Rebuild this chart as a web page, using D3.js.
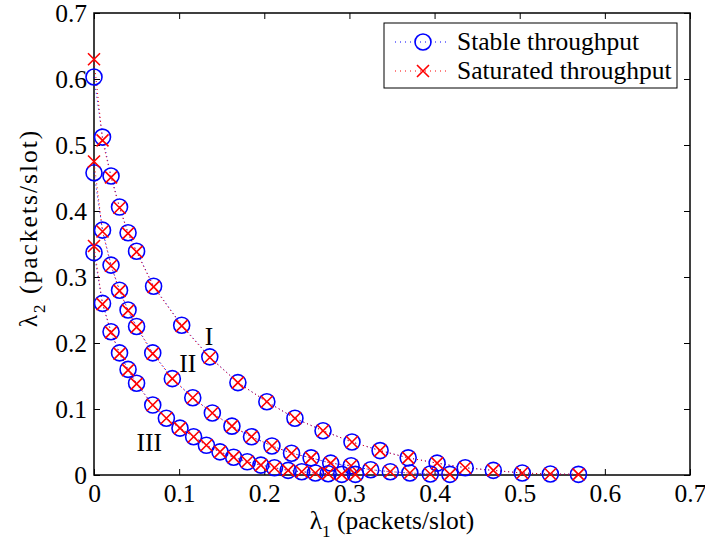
<!DOCTYPE html>
<html>
<head>
<meta charset="utf-8">
<script src="https://cdn.jsdelivr.net/npm/d3@7"></script>
<style>
	body { margin: 0; background: #fff; }
	svg text { font-family: 'Liberation Serif', 'Times New Roman', serif; }
</style>
</head>
<body>
<svg id="chart" width="705" height="544"></svg>
<script>
// lambda_1 values of each region boundary
const xCurveI = [0, 0.01, 0.02, 0.03, 0.04, 0.05, 0.07, 0.103, 0.136, 0.169, 0.203, 0.236, 0.269, 0.303, 0.336, 0.369, 0.403, 0.436, 0.469, 0.503, 0.536, 0.569];
const xCurveII = [0, 0.01, 0.02, 0.03, 0.04, 0.05, 0.069, 0.092, 0.116, 0.139, 0.162, 0.185, 0.209, 0.232, 0.255, 0.278, 0.302, 0.325, 0.348, 0.371, 0.395, 0.418];
const xCurveIII = [0, 0.01, 0.02, 0.03, 0.04, 0.05, 0.069, 0.085, 0.101, 0.117, 0.132, 0.148, 0.164, 0.180, 0.196, 0.212, 0.228, 0.244, 0.260, 0.275, 0.291, 0.307];

// lambda_2, stable throughput
const stableI = [0.603, 0.512, 0.453, 0.406, 0.367, 0.339, 0.286, 0.227, 0.179, 0.140, 0.111, 0.086, 0.067, 0.050, 0.037, 0.026, 0.018, 0.011, 0.007, 0.003, 0.0015, 0.001];
const stableII = [0.458, 0.371, 0.318, 0.280, 0.250, 0.225, 0.185, 0.146, 0.117, 0.094, 0.074, 0.058, 0.044, 0.033, 0.026, 0.018, 0.014, 0.008, 0.005, 0.003, 0.0015, 0.001];
const stableIII = [0.337, 0.260, 0.217, 0.185, 0.160, 0.139, 0.106, 0.086, 0.071, 0.058, 0.045, 0.035, 0.027, 0.020, 0.015, 0.011, 0.007, 0.005, 0.003, 0.002, 0.001, 0.001];

// lambda_2, saturated throughput
const saturatedI = [0.630, 0.507, 0.451, 0.405, 0.366, 0.338, 0.285, 0.226, 0.178, 0.140, 0.111, 0.086, 0.067, 0.050, 0.037, 0.026, 0.018, 0.011, 0.007, 0.003, 0.0015, 0.001];
const saturatedII = [0.475, 0.369, 0.317, 0.279, 0.249, 0.224, 0.184, 0.146, 0.117, 0.094, 0.074, 0.058, 0.044, 0.033, 0.026, 0.018, 0.014, 0.008, 0.005, 0.003, 0.0015, 0.001];
const saturatedIII = [0.347, 0.259, 0.216, 0.184, 0.159, 0.138, 0.106, 0.086, 0.071, 0.058, 0.045, 0.035, 0.027, 0.020, 0.015, 0.011, 0.007, 0.005, 0.003, 0.002, 0.001, 0.001];

const tickValues = [0, 0.1, 0.2, 0.3, 0.4, 0.5, 0.6, 0.7];
const regionLabels = [
	{ text: 'I', x: 0.135, y: 0.197 },
	{ text: 'II', x: 0.110, y: 0.156 },
	{ text: 'III', x: 0.065, y: 0.036 },
];

const FONT = "'Liberation Serif', 'Times New Roman', serif";
const FS = '25.5px';
const margin = { left: 94, right: 15, top: 13, bottom: 69 };
const width = 705 - margin.left - margin.right;
const height = 544 - margin.top - margin.bottom;

const svg = d3.select('#chart');
const g = svg.append('g').attr('transform', `translate(${margin.left},${margin.top})`);

const x = d3.scaleLinear().domain([0, 0.7]).range([0, width]);
const y = d3.scaleLinear().domain([0, 0.7]).range([height, 0]);

const fmt = (d) => (d === 0 ? '0' : d3.format('.1f')(d));

// axes, ticks pointing inward, box on all sides
function styleAxis(sel) {
	sel.attr('font-family', null).attr('font-size', null);
	sel.select('.domain').remove();
	sel.selectAll('line').attr('stroke', '#000').attr('stroke-width', 1);
	sel.selectAll('text').attr('fill', '#000').style('font-family', FONT).style('font-size', FS);
}

g.append('g')
	.attr('transform', `translate(0,${height})`)
	.call(d3.axisBottom(x).tickValues(tickValues).tickFormat(fmt).tickSizeInner(-6).tickPadding(9))
	.call(styleAxis);
g.append('g')
	.call(d3.axisTop(x).tickValues(tickValues).tickFormat('').tickSizeInner(-6))
	.call(styleAxis);
g.append('g')
	.call(d3.axisLeft(y).tickValues(tickValues).tickFormat(fmt).tickSizeInner(-6).tickPadding(7))
	.call(styleAxis);
g.append('g')
	.attr('transform', `translate(${width},0)`)
	.call(d3.axisRight(y).tickValues(tickValues).tickFormat('').tickSizeInner(-6))
	.call(styleAxis);

g.append('rect')
	.attr('width', width)
	.attr('height', height)
	.attr('fill', 'none')
	.attr('stroke', '#000')
	.attr('stroke-width', 1.5);

const curves = [
	{ xs: xCurveI, stable: stableI, saturated: saturatedI },
	{ xs: xCurveII, stable: stableII, saturated: saturatedII },
	{ xs: xCurveIII, stable: stableIII, saturated: saturatedIII },
];

const line = d3.line().x((d) => x(d[0])).y((d) => y(d[1]));

function drawCircles(sel, pts) {
	sel.selectAll(null).data(pts).enter().append('circle')
		.attr('cx', (d) => x(d[0]))
		.attr('cy', (d) => y(d[1]))
		.attr('r', 8)
		.attr('fill', 'none')
		.attr('stroke', '#0000ff')
		.attr('stroke-width', 1.6);
}

function drawCrosses(sel, pts) {
	const s = 6;
	sel.selectAll(null).data(pts).enter().append('path')
		.attr('d', (d) => {
			const cx = x(d[0]);
			const cy = y(d[1]);
			return `M${cx - s},${cy - s}L${cx + s},${cy + s}M${cx - s},${cy + s}L${cx + s},${cy - s}`;
		})
		.attr('fill', 'none')
		.attr('stroke', '#ff0000')
		.attr('stroke-width', 1.6);
}

curves.forEach((c) => {
	const stablePts = c.xs.map((v, i) => [v, c.stable[i]]);
	const satPts = c.xs.map((v, i) => [v, c.saturated[i]]);

	g.append('path').datum(stablePts)
		.attr('d', line)
		.attr('fill', 'none')
		.attr('stroke', '#0000ff')
		.attr('stroke-width', 1)
		.attr('stroke-dasharray', '1,3');
	g.append('path').datum(satPts)
		.attr('d', line)
		.attr('fill', 'none')
		.attr('stroke', '#ff0000')
		.attr('stroke-width', 1)
		.attr('stroke-dasharray', '1,3')
		.attr('stroke-dashoffset', 2);

	drawCircles(g.append('g'), stablePts);
	drawCrosses(g.append('g'), satPts);
});

g.selectAll('.region-label').data(regionLabels).enter().append('text')
	.attr('class', 'region-label')
	.attr('x', (d) => x(d.x))
	.attr('y', (d) => y(d.y))
	.attr('text-anchor', 'middle')
	.style('font-family', FONT)
	.style('font-size', FS)
	.text((d) => d.text);

// axis titles
const xTitle = svg.append('text')
	.attr('x', margin.left + width / 2)
	.attr('y', 529)
	.attr('text-anchor', 'middle')
	.style('font-family', FONT)
	.style('font-size', FS);
xTitle.append('tspan').text('λ');
xTitle.append('tspan').attr('dy', 8).style('font-size', '17px').text('1');
xTitle.append('tspan').attr('dy', -8).text(' (packets/slot)');

// rotated title comes out more spread in the original
const yTitle = svg.append('text')
	.attr('transform', `translate(37,228) rotate(-90)`)
	.attr('text-anchor', 'middle')
	.style('font-family', FONT)
	.style('font-size', FS)
	.style('letter-spacing', '2px');
yTitle.append('tspan').text('λ');
yTitle.append('tspan').attr('dy', 8).style('font-size', '17px').text('2');
yTitle.append('tspan').attr('dy', -8).text(' (packets/slot)');

// legend
const legend = svg.append('g').attr('transform', 'translate(384,23)');
legend.append('rect')
	.attr('width', 293)
	.attr('height', 65)
	.attr('fill', '#fff')
	.attr('stroke', '#000')
	.attr('stroke-width', 1);

const legendItems = [
	{ label: 'Stable throughput', color: '#0000ff', marker: 'circle' },
	{ label: 'Saturated throughput', color: '#ff0000', marker: 'cross' },
];

legendItems.forEach((item, i) => {
	const row = legend.append('g').attr('transform', `translate(0,${19 + i * 29})`);
	row.append('line')
		.attr('x1', 11).attr('x2', 65)
		.attr('stroke', item.color)
		.attr('stroke-width', 1)
		.attr('stroke-dasharray', '1,4');
	if (item.marker === 'circle') {
		row.append('circle').attr('cx', 39).attr('r', 8)
			.attr('fill', 'none').attr('stroke', item.color).attr('stroke-width', 1.6);
	} else {
		row.append('path').attr('d', 'M33,-6L45,6M33,6L45,-6')
			.attr('stroke', item.color).attr('stroke-width', 1.6);
	}
	row.append('text')
		.attr('x', 73)
		.attr('y', 8)
		.style('font-family', FONT)
		.style('font-size', FS)
		.text(item.label);
});
</script>
</body>
</html>
